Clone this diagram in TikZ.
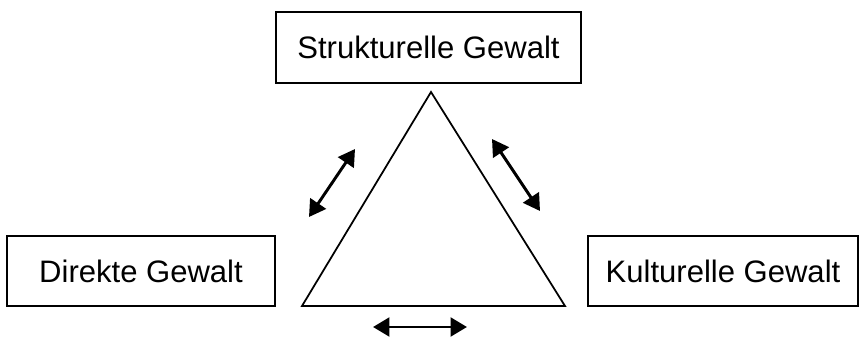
\documentclass[tikz,border=0pt]{standalone}
\usepackage{fontspec}
\setmainfont{Liberation Sans}
\usetikzlibrary{arrows.meta}
\begin{document}
\begin{tikzpicture}[>={Triangle[length=14pt,width=16pt]},x=0.03cm,y=-0.03cm]
 \tikzset{kasten/.style={draw,line width=1.7pt,inner sep=0pt,font=\fontsize{26.5}{30}\selectfont}}
 \useasboundingbox (0,0) rectangle (866,340);
 \node[kasten,minimum width=305*0.03cm,minimum height=71*0.03cm] (struk) at (428.5,47.5) {Strukturelle Gewalt};
 \node[kasten,minimum width=268*0.03cm,minimum height=70*0.03cm] (direkt) at (141,271) {Direkte Gewalt};
 \node[kasten,minimum width=270*0.03cm,minimum height=70*0.03cm] (kultur) at (723,271) {Kulturelle Gewalt};
 % Dreieck
 \coordinate (oben) at (431,92);
 \coordinate (links) at (302,306);
 \coordinate (rechts) at (565,306);
 \draw[line width=1.5pt,line join=miter] (oben)--(links)--(rechts)--cycle;
 % Pfeile
 \coordinate (l1) at (309,217); \coordinate (l2) at (355,149);
 \coordinate (r1) at (492,139); \coordinate (r2) at (540,211);
 \coordinate (u1) at (373,327); \coordinate (u2) at (467,327);
 \draw[<->,line width=2.5pt] (l1)--(l2);
 \draw[<->,line width=2.5pt] (r1)--(r2);
 \draw[<->,line width=2.5pt] (u1)--(u2);
\end{tikzpicture}
\end{document}
